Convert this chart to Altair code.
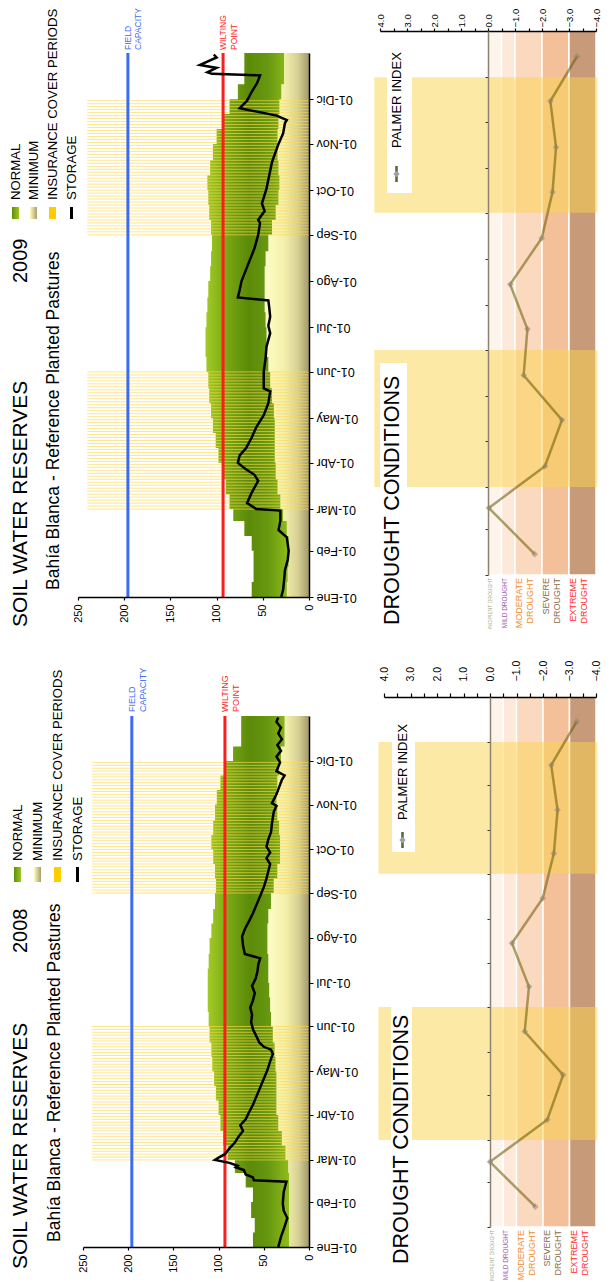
import json
import altair as alt
import pandas as pd

# ------------------------------------------------------------------ data
MONTHS_ES = ["Ene", "Feb", "Mar", "Abr", "May", "Jun",
             "Jul", "Ago", "Sep", "Oct", "Nov", "Dic"]

FIELD_CAPACITY = 196
WILTING_POINT = 93
STRIPE_TOP = 240

DEKAD_STARTS = ["01-01", "01-11", "01-21", "02-01", "02-11", "02-21",
                "03-01", "03-11", "03-21", "04-01", "04-11", "04-21",
                "05-01", "05-11", "05-21", "06-01", "06-11", "06-21",
                "07-01", "07-11", "07-21", "08-01", "08-11", "08-21",
                "09-01", "09-11", "09-21", "10-01", "10-11", "10-21",
                "11-01", "11-11", "11-21", "12-01", "12-11", "12-21"]

NORMAL_HIGH_2008 = [67, 62, 60, 64, 62, 70, 82, 90, 95, 98, 100, 103,
                    105, 107, 108, 110, 111, 112, 112, 112, 111, 110, 108, 106,
                    104, 103, 104, 106, 108, 106, 104, 102, 98, 92, 84, 75]
MIN_HIGH_2008 = [22, 22, 22, 22, 22, 22, 23, 26, 30, 34, 36, 36,
                 36, 37, 38, 40, 42, 43, 44, 45, 45, 46, 46, 45,
                 42, 39, 35, 32, 32, 33, 35, 36, 35, 33, 31, 27]
NORMAL_HIGH_2009 = [67, 62, 60, 60, 62, 70, 82, 86, 90, 94, 98, 101,
                    104, 106, 108, 109, 111, 112, 112, 111, 110, 109, 107, 106,
                    105, 106, 108, 109, 110, 107, 104, 100, 93, 86, 77, 70]
MIN_HIGH_2009 = [24, 24, 23, 22, 22, 24, 28, 31, 34, 36, 37, 37,
                 37, 38, 40, 42, 44, 46, 46, 47, 48, 48, 48, 47,
                 44, 40, 36, 33, 32, 33, 34, 34, 33, 32, 30, 27]

# (day of year, storage mm)
STORAGE_2008 = [(0, 34), (7, 31), (14, 27), (20, 24), (25, 28), (30, 29), (38, 28),
                (45, 25), (46, 61), (48, 62), (50, 70), (53, 72), (55, 81), (56, 79),
                (58, 88), (60, 104), (62, 99), (64, 93), (68, 88), (72, 82), (76, 78),
                (80, 73), (84, 76), (88, 70), (92, 67), (98, 62), (104, 58), (110, 54),
                (116, 50), (122, 46), (128, 43), (133, 40), (136, 42), (138, 50),
                (141, 55), (145, 58), (150, 62), (155, 64), (160, 63), (165, 65),
                (170, 62), (175, 60), (180, 63), (185, 59), (190, 57), (195, 56),
                (199, 54), (202, 71), (208, 73), (214, 74), (219, 71), (225, 66),
                (230, 62), (236, 58), (242, 54), (248, 50), (254, 47), (259, 45),
                (264, 43), (268, 47), (272, 43), (276, 47), (281, 45), (286, 42),
                (292, 41), (300, 39), (304, 36), (306, 41), (312, 36), (317, 33),
                (322, 30), (325, 27), (328, 36), (334, 32), (338, 36), (342, 31),
                (346, 35), (350, 30), (354, 34), (358, 31), (362, 36), (365, 34)]
STORAGE_2009 = [(0, 30), (5, 28), (11, 27), (18, 26), (25, 23), (31, 22), (40, 24),
                (45, 33), (51, 31), (58, 31), (59, 57), (63, 67), (70, 62), (78, 55),
                (82, 59), (86, 69), (90, 77), (95, 75), (100, 68), (107, 62), (114, 57),
                (122, 49), (130, 44), (138, 42), (140, 49), (151, 49), (160, 47),
                (168, 46), (177, 42), (182, 44), (188, 42), (194, 43), (199, 44),
                (201, 77), (206, 75), (212, 73), (223, 66), (234, 59), (243, 55),
                (251, 53), (253, 55), (259, 48), (264, 51), (274, 46), (283, 43),
                (292, 40), (304, 33), (311, 28), (318, 26), (320, 24), (323, 35),
                (328, 75), (333, 67), (339, 62), (345, 56), (350, 53), (351, 105),
                (352, 110), (355, 100), (357, 118), (362, 100), (364, 103)]

PALMER_2008 = [-1.71, 0.0, -2.16, -2.76, -1.31, -1.47, -0.83, -1.99, -2.41, -2.55, -2.31, -3.27]
PALMER_2009 = [-1.73, -0.03, -2.11, -2.74, -1.32, -1.46, -0.82, -1.99, -2.39, -2.52, -2.31, -3.30]

INSURANCE_PERIODS = [("03-01", "06-01"), ("09-01", "12-01")]

DROUGHT_CLASSES = ["INCIPIENT DROUGHT", "MILD DROUGHT", "MODERATE\nDROUGHT",
                   "SEVERE\nDROUGHT", "EXTREME\nDROUGHT"]
DROUGHT_UPPER = [0.0, -0.5, -1.0, -2.0, -3.0]
DROUGHT_LOWER = [-0.5, -1.0, -2.0, -3.0, -4.0]

LEGEND_ITEMS = ["NORMAL", "MINIMUM", "INSURANCE COVER PERIODS", "STORAGE"]

NORMAL_HIGH = {2008: NORMAL_HIGH_2008, 2009: NORMAL_HIGH_2009}
MIN_HIGH = {2008: MIN_HIGH_2008, 2009: MIN_HIGH_2009}
STORAGE = {2008: STORAGE_2008, 2009: STORAGE_2009}
PALMER = {2008: PALMER_2008, 2009: PALMER_2009}

# ------------------------------------------------------------------ style
FONT = "Liberation Sans"
BLUE = "#3b6cf2"
RED = "#ff1c1c"
BAND_FILL = ["#fdf4ec", "#fde8da", "#fbd9be", "#f3c09a", "#c79a7a"]
BAND_TEXT = ["#a9a77c", "#a35bae", "#f08c2c", "#8b6a48", "#ff2b2b"]
BAND_FONT = [5, 6.5, 9, 9, 9]


def grad(stops):
    return alt.LinearGradient(
        gradient="linear", x1=0, x2=1, y1=0, y2=0,
        stops=[alt.GradientStop(color=c, offset=o) for c, o in stops])


NORMAL_GRAD = grad([("#a2cb24", 0), ("#74a212", 0.3), ("#5b8a08", 0.52),
                    ("#679810", 0.75), ("#8fbd1a", 1)])
MIN_GRAD = grad([("#fffdc6", 0), ("#f3efaa", 0.45), ("#d6d094", 0.75), ("#a1996a", 1)])
LEGEND_SYM = [grad([("#5e8e0a", 0), ("#9cc820", 1)]),
              grad([("#fffbc0", 0), ("#a89e6c", 1)]), "#ffcc00", "black"]

# all pixel positions are relative to the plotting origin (top-left of the 2009 Palmer panel)
VIEW_W, VIEW_H = 530, 1216
LAYOUT = {
    2009: dict(soil_xr=[0, 231], palm_xr=[302, 518], soil_yr=[566, 22], palm_yr=[544, 0],
               title_x=-57.5, title_y=596, year_y=252, sub_x=-24.5, sub_y=559,
               leg_x=[-62.5, -44.5, -25.5, -6.5], leg_text_y=169, leg_sym=[176, 188],
               fc_y=19, fc_size=8.5, dc_x=315, dc_y=594, dc_box=[302, 329],
               pl_box_x=[309, 334], pl_box_y=[28, 162], pl_x=318.5,
               pl_text_y=117, pl_sym=[135, 151],
               p_lab_pad=1, p_lab_size=9.5, p_tick=3),
    2008: dict(soil_xr=[5, 231], palm_xr=[306, 518], soil_yr=[1216, 685], palm_yr=[1196, 666],
               title_x=-57.5, title_y=1238, year_y=922, sub_x=-23, sub_y=1211,
               leg_x=[-60.5, -40.5, -20.5, -0.5], leg_text_y=830, leg_sym=[836, 851],
               fc_y=681, fc_size=9, dc_x=323.5, dc_y=1233, dc_box=[313, 334],
               pl_box_x=[314, 337], pl_box_y=[692, 821], pl_x=324.5,
               pl_text_y=789, pl_sym=[801, 817],
               p_lab_pad=12, p_lab_size=10.5, p_tick=4),
}

MONTH_EXPR = "'01-' + " + json.dumps(MONTHS_ES) + "[month(datum.value)]"
ONE = pd.DataFrame({"k": [0]})


def label(text, x, y, size, color="black"):
    return alt.Chart(ONE).mark_text(
        text=text, angle=270, align="left", baseline="middle", fontSize=size,
        color=color, lineBreak="\n").encode(x=alt.value(x), y=alt.value(y))


def build_year(year):
    L = LAYOUT[year]
    t0 = pd.Timestamp(f"{year}-01-01")
    t1 = pd.Timestamp(f"{year + 1}-01-01")
    d_start = alt.DateTime(year=year, month=1, date=1)
    d_end = alt.DateTime(year=year + 1, month=1, date=1)
    month_ticks = [alt.DateTime(year=year, month=m, date=1) for m in range(1, 13)]

    # ---- tables
    bands = pd.DataFrame({
        "date": [pd.Timestamp(f"{year}-{d}") for d in DEKAD_STARTS] + [t1],
        "nh": NORMAL_HIGH[year] + NORMAL_HIGH[year][-1:],
        "mh": MIN_HIGH[year] + MIN_HIGH[year][-1:],
        "base": 0,
    })
    storage = pd.DataFrame({
        "date": [t0 + pd.Timedelta(days=d) for d, _ in STORAGE[year]],
        "v": [v for _, v in STORAGE[year]],
    })
    stripes = pd.DataFrame({"date": pd.concat(
        [pd.Series(pd.date_range(f"{year}-{a}", f"{year}-{b}", freq="2D"))
         for a, b in INSURANCE_PERIODS], ignore_index=True)})
    periods = pd.DataFrame({
        "d0": [pd.Timestamp(f"{year}-{a}") for a, _ in INSURANCE_PERIODS],
        "d1": [pd.Timestamp(f"{year}-{b}") for _, b in INSURANCE_PERIODS],
    })
    refs = pd.DataFrame({"v": [FIELD_CAPACITY, WILTING_POINT], "d0": [t0, t0], "d1": [t1, t1]})
    palmer = pd.DataFrame({
        "date": [pd.Timestamp(f"{year}-{m:02d}-15") for m in range(1, 13)],
        "p": PALMER[year],
    })
    drought = pd.DataFrame({"name": DROUGHT_CLASSES, "hi": DROUGHT_UPPER,
                            "lo": DROUGHT_LOWER, "d0": t0, "d1": t1})

    # ---- scales & axes
    sx_scale = alt.Scale(domain=[250, 0], range=L["soil_xr"], nice=False, zero=False)
    sy_scale = alt.Scale(domain=[d_start, d_end], range=L["soil_yr"])
    px_scale = alt.Scale(domain=[4, -4], range=L["palm_xr"], nice=False, zero=False)
    py_scale = alt.Scale(domain=[d_start, d_end], range=L["palm_yr"])
    zero_px = (L["palm_xr"][0] + L["palm_xr"][1]) / 2.0

    sx_axis = alt.Axis(orient="bottom", offset=L["soil_yr"][0] - VIEW_H,
                       values=[0, 50, 100, 150, 200, 250], title=None,
                       labelAngle=270, labelAlign="right", labelBaseline="middle",
                       labelFontSize=11, labelPadding=4, tickSize=3, tickWidth=1.2,
                       domainColor="black", tickColor="black", domainWidth=1.5,
                       labelColor="black", grid=False, zindex=1)
    sy_axis = alt.Axis(orient="right", offset=L["soil_xr"][1] - VIEW_W, values=month_ticks,
                       labelExpr=MONTH_EXPR, labelAngle=180, labelAlign="right",
                       labelBaseline="middle", labelFontSize=12.5, labelPadding=3,
                       tickSize=4, tickColor="black", domainColor="black",
                       domainWidth=1.5, labelColor="black", title=None, grid=False,
                       zindex=1)
    px_axis = alt.Axis(orient="top", offset=-L["palm_yr"][1],
                       values=[i / 2 for i in range(-8, 9)], title=None,
                       labelExpr="datum.value % 1 == 0 ? format(datum.value, '.1f') : ''",
                       labelAngle=270, labelAlign="left", labelBaseline="middle",
                       labelFontSize=L["p_lab_size"], labelPadding=L["p_lab_pad"],
                       tickSize=L["p_tick"], tickWidth=1.2,
                       domainColor="black", tickColor="black", domainWidth=1.5,
                       labelColor="black", grid=False, zindex=1)
    py_axis = alt.Axis(orient="left", offset=-zero_px, values=month_ticks, labels=False,
                       title=None, tickSize=3, tickColor="#333333",
                       domainColor="#8c8272", domainWidth=1.5, grid=False, zindex=1)

    def SX(f):
        return alt.X(f, type="quantitative", scale=sx_scale, axis=sx_axis)

    def SY(f):
        return alt.Y(f, type="temporal", scale=sy_scale, axis=sy_axis)

    def PX(f):
        return alt.X(f, type="quantitative", scale=px_scale, axis=px_axis)

    def PY(f):
        return alt.Y(f, type="temporal", scale=py_scale, axis=py_axis)

    # ---- soil water reserves
    soil = [
        alt.Chart(bands).mark_area(orient="horizontal", interpolate="step-before",
                                   color=MIN_GRAD).encode(
            x=SX("mh"), x2="base", y=SY("date")),
        alt.Chart(bands).mark_area(orient="horizontal", interpolate="step-before",
                                   color=NORMAL_GRAD).encode(
            x=SX("nh"), x2="mh", y=SY("date")),
        alt.Chart(stripes).mark_rule(color="#ffd84a", opacity=0.65, strokeWidth=1).encode(
            x=alt.XDatum(STRIPE_TOP, scale=sx_scale, axis=sx_axis),
            x2=alt.X2Datum(0), y=SY("date")),
        alt.Chart(refs.iloc[[0]]).mark_rule(color=BLUE, strokeWidth=3).encode(
            x=SX("v"), y=SY("d0"), y2="d1"),
        alt.Chart(refs.iloc[[1]]).mark_rule(color=RED, strokeWidth=3).encode(
            x=SX("v"), y=SY("d0"), y2="d1"),
        alt.Chart(storage).mark_line(color="black", strokeWidth=2.5).encode(
            x=SX("v"), y=SY("date"), order="date:T"),
        alt.Chart(refs.iloc[[0]]).mark_text(
            text="FIELD\nCAPACITY", lineBreak="\n", angle=270, align="left",
            baseline="middle", fontSize=L["fc_size"], color=BLUE).encode(
            x=SX("v"), y=alt.value(L["fc_y"])),
        alt.Chart(refs.iloc[[1]]).mark_text(
            text="WILTING\nPOINT", lineBreak="\n", angle=270, align="left",
            baseline="middle", fontSize=L["fc_size"], color=RED).encode(
            x=SX("v"), y=alt.value(L["fc_y"])),
        label("SOIL WATER RESERVES", L["title_x"], L["title_y"], 21),
        label(str(year), L["title_x"], L["year_y"], 20),
        label("Bahía Blanca - Reference Planted Pastures", L["sub_x"], L["sub_y"], 17.5),
    ]
    s0, s1 = L["leg_sym"]
    for i, item in enumerate(LEGEND_ITEMS):
        x = L["leg_x"][i]
        soil.append(label(item, x, L["leg_text_y"], 13.2))
        if item == "STORAGE":
            soil.append(alt.Chart(ONE).mark_rule(color="black", strokeWidth=3).encode(
                x=alt.value(x), y=alt.value(s0), y2=alt.value(s1)))
        else:
            soil.append(alt.Chart(ONE).mark_rect(color=LEGEND_SYM[i]).encode(
                x=alt.value(x - 3.5), x2=alt.value(x + 3.5),
                y=alt.value(s0), y2=alt.value(s1)))

    # ---- drought conditions (Palmer index)
    palm = [
        alt.Chart(drought).mark_rect(stroke="white", strokeWidth=1.5).encode(
            x=PX("hi"), x2="lo", y=PY("d0"), y2="d1",
            fill=alt.Fill("name:N", scale=alt.Scale(domain=DROUGHT_CLASSES, range=BAND_FILL),
                          legend=None)),
        alt.Chart(periods).mark_rect(color="#fcd34d", opacity=0.5).encode(
            x=alt.XDatum(4.21, scale=px_scale, axis=px_axis), x2=alt.X2Datum(-4.05),
            y=PY("d0"), y2="d1"),
        alt.Chart(palmer).mark_line(color="#665a00", opacity=0.55, strokeWidth=2.5).encode(
            x=PX("p"), y=PY("date"), order="date:T"),
        alt.Chart(palmer).mark_point(shape="diamond", filled=True, size=45,
                                     color="#8a8070", opacity=0.5).encode(
            x=PX("p"), y=PY("date")),
        alt.Chart(ONE).mark_rect(color="white").encode(
            x=alt.value(L["dc_box"][0]), x2=alt.value(L["dc_box"][1]),
            y=alt.value(L["dc_y"] - 262), y2=alt.value(L["dc_y"])),
        label("DROUGHT CONDITIONS", L["dc_x"], L["dc_y"], 21.5),
        alt.Chart(ONE).mark_rect(color="white").encode(
            x=alt.value(L["pl_box_x"][0]), x2=alt.value(L["pl_box_x"][1]),
            y=alt.value(L["pl_box_y"][0]), y2=alt.value(L["pl_box_y"][1])),
        label("PALMER INDEX", L["pl_x"], L["pl_text_y"], 13),
        alt.Chart(ONE).mark_rule(color="#4f6b2a", strokeWidth=2.5).encode(
            x=alt.value(L["pl_x"]), y=alt.value(L["pl_sym"][0]),
            y2=alt.value(L["pl_sym"][1])),
        alt.Chart(ONE).mark_point(shape="diamond", filled=True, size=40,
                                  color="#9aa2a4", opacity=1).encode(
            x=alt.value(L["pl_x"]), y=alt.value(sum(L["pl_sym"]) / 2)),
    ]
    hp = L["palm_yr"][0]
    for i, name in enumerate(DROUGHT_CLASSES):
        palm.append(alt.Chart(drought.iloc[[i]]).mark_text(
            angle=270, align="right", baseline="top", lineBreak="\n",
            fontSize=BAND_FONT[i], color=BAND_TEXT[i]).encode(
            x=PX("hi"), y=alt.value(hp + 3), text="name:N"))

    return alt.layer(*soil), alt.layer(*palm)


s09, p09 = build_year(2009)
s08, p08 = build_year(2008)

chart = alt.layer(s09, p09, s08, p08).resolve_scale(
    x="independent", y="independent"
).properties(
    width=VIEW_W, height=VIEW_H,
    autosize=alt.AutoSizeParams(type="none"),
    padding={"left": 70, "top": 23, "right": -6, "bottom": 35},
).configure(font=FONT).configure_view(stroke=None)

chart.save("out.html", embed_options={"renderer": "svg", "actions": False})
